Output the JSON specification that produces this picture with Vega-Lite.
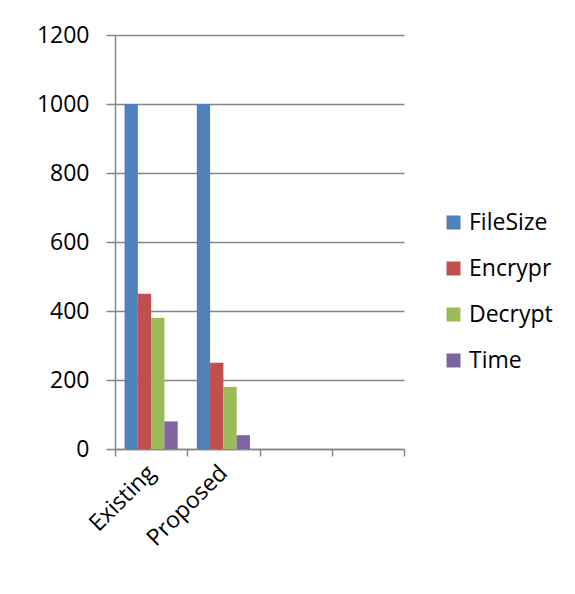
{
  "$schema": "https://vega.github.io/schema/vega-lite/v6.json",
  "autosize": {"type": "none"},
  "padding": {"left": 115, "top": 35, "right": 171, "bottom": 145},
  "width": 289,
  "height": 414,
  "background": "white",
  "data": {
    "values": [
      {"group": "Existing", "series": "FileSize", "value": 1000},
      {"group": "Existing", "series": "Encrypr", "value": 450},
      {"group": "Existing", "series": "Decrypt", "value": 380},
      {"group": "Existing", "series": "Time", "value": 80},
      {"group": "Proposed", "series": "FileSize", "value": 1000},
      {"group": "Proposed", "series": "Encrypr", "value": 250},
      {"group": "Proposed", "series": "Decrypt", "value": 180},
      {"group": "Proposed", "series": "Time", "value": 40}
    ]
  },
  "mark": {"type": "bar"},
  "encoding": {
    "x": {
      "field": "group",
      "type": "nominal",
      "scale": {"domain": ["Existing", "Proposed", "c3", "c4"], "paddingInner": 0, "paddingOuter": 0},
      "axis": {
        "title": null,
        "labelAngle": -45,
        "labelAlign": "right",
        "labelBaseline": "middle",
        "labelExpr": "datum.value == 'Existing' || datum.value == 'Proposed' ? datum.value : ''",
        "labelFont": "Open Sans",
        "labelFontSize": 23,
        "labelColor": "#000000",
        "labelPadding": 13,
        "tickBand": "extent",
        "tickSize": 7,
        "tickWidth": 1.5,
        "tickColor": "#868686",
        "domainColor": "#868686",
        "domainWidth": 1.5,
        "grid": false
      }
    },
    "xOffset": {
      "field": "series",
      "type": "nominal",
      "sort": ["FileSize", "Encrypr", "Decrypt", "Time"],
      "scale": {"paddingInner": 0, "paddingOuter": 0.72}
    },
    "y": {
      "field": "value",
      "type": "quantitative",
      "scale": {"domain": [0, 1200], "nice": false},
      "axis": {
        "title": null,
        "values": [0, 200, 400, 600, 800, 1000, 1200],
        "format": "d",
        "labelFont": "Open Sans",
        "labelFontSize": 23,
        "labelColor": "#000000",
        "labelPadding": 17,
        "tickSize": 9,
        "tickWidth": 1.5,
        "tickColor": "#868686",
        "domainColor": "#868686",
        "domainWidth": 1.5,
        "grid": true,
        "gridColor": "#868686",
        "gridWidth": 1.5
      }
    },
    "color": {
      "field": "series",
      "type": "nominal",
      "sort": ["FileSize", "Encrypr", "Decrypt", "Time"],
      "scale": {
        "domain": ["FileSize", "Encrypr", "Decrypt", "Time"],
        "range": ["#4F81BD", "#C0504D", "#9BBB59", "#8064A2"]
      },
      "legend": {
        "title": null,
        "orient": "none",
        "legendX": 327,
        "legendY": 176,
        "symbolType": "square",
        "symbolSize": 196,
        "symbolStrokeWidth": 0,
        "labelFont": "Open Sans",
        "labelFontSize": 23,
        "labelColor": "#000000",
        "labelOffset": 4,
        "rowPadding": 22
      }
    }
  },
  "config": {
    "view": {"stroke": null}
  }
}
